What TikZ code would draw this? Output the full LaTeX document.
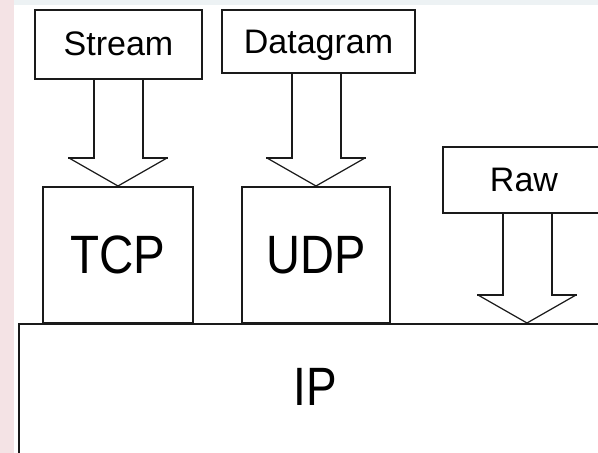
\documentclass[tikz,border=0pt]{standalone}
\usepackage{fontspec}
\setmainfont{Liberation Sans}
\usetikzlibrary{calc}
\definecolor{ink}{HTML}{1A1A1A}
\definecolor{pinkstrip}{HTML}{F4E3E5}
\definecolor{topstrip}{HTML}{EDF2F4}
\newcommand{\blockarrow}[2]{%
  \path (#2) ++(-24.5,-28) coordinate (#2-l) ++(49,0) coordinate (#2-r);
  \draw[shaftline] (#2-l |- #1.south) -- (#2-l) -- ++(-24.5,0);
  \draw[wingline] ($(#2-l)+(-24.5,0)$) -- (#2) -- ($(#2-r)+(24.5,0)$);
  \draw[shaftline] (#2-r |- #1.south) -- (#2-r) -- ++(24.5,0);
}
\begin{document}
\begin{tikzpicture}[x=1pt,y=-1pt,
  box/.style={draw=ink,line width=2pt,fill=white,inner sep=0pt,text depth=0pt},
  smalltext/.style={font=\fontsize{34}{40}\selectfont,text=black},
  bigtext/.style={font=\fontsize{54}{60}\selectfont,text=black,inner sep=0pt,text depth=0pt},
  shaftline/.style={draw=ink,line width=2pt,line cap=rect},
  wingline/.style={draw=ink,line width=1.2pt,line cap=round}]
\useasboundingbox (0,0) rectangle (598,453);
\fill[white] (0,0) rectangle (598,453);
\fill[pinkstrip] (0,0) rectangle (14,453);
\fill[topstrip] (14,0) rectangle (598,5);
\begin{scope}
\clip (14,5) rectangle (598,453);
% IP layer
\node[box,anchor=north west,minimum width=620pt,minimum height=200pt] (ip) at (18,323) {};
\node[bigtext] (iplabel) at (315,387) {\scalebox{0.85}[1]{IP}};
% protocol boxes
\node[box,bigtext,draw=ink,line width=2pt,fill=white,minimum width=150pt,minimum height=136pt] (tcp) at (118,255) {\scalebox{0.88}[1]{TCP}};
\node[box,bigtext,draw=ink,line width=2pt,fill=white,minimum width=148pt,minimum height=136pt] (udp) at (316,255) {\scalebox{0.87}[1]{UDP}};
% socket type boxes
\node[box,smalltext,minimum width=167pt,minimum height=69pt] (stream) at (118.5,44.5) {\raisebox{2pt}{Stream}};
\node[box,smalltext,minimum width=193pt,minimum height=63pt] (datagram) at (318.5,41.5) {Datagram};
\node[box,smalltext,minimum width=168pt,minimum height=66pt] (raw) at (527,180) {\hspace*{-6pt}Raw};
\coordinate (tcptip) at (tcp.north);
\coordinate (udptip) at (udp.north);
\coordinate (rawtip) at (527,323);
\blockarrow{stream}{tcptip}
\blockarrow{datagram}{udptip}
\blockarrow{raw}{rawtip}
\end{scope}
\end{tikzpicture}
\end{document}
